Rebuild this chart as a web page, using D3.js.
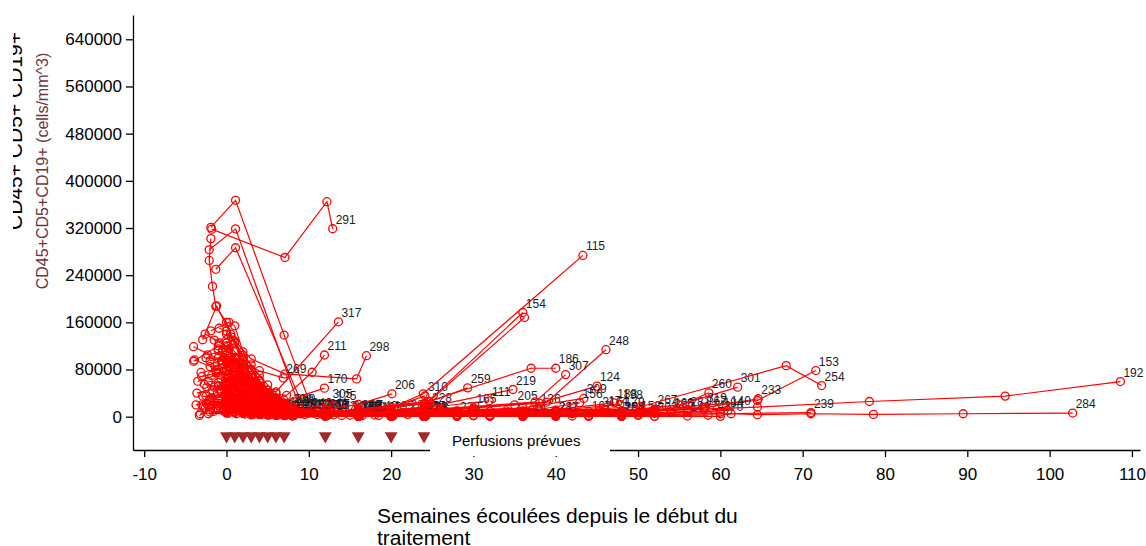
<!DOCTYPE html>
<html>
<head>
<meta charset="utf-8">
<script src="https://cdn.jsdelivr.net/npm/d3@7"></script>
<style>
  html, body { margin: 0; padding: 0; background: #fff; }
  svg { display: block; font-family: Arial, "Liberation Sans", sans-serif; }
</style>
</head>
<body>
<svg id="chart" width="1146" height="546"></svg>
<script>
// Axis ticks
const xTicks = [-10, 0, 10, 20, 30, 40, 50, 60, 70, 80, 90, 100, 110];
const yTicks = [0, 80000, 160000, 240000, 320000, 400000, 480000, 560000, 640000];

// Planned infusion weeks
const infusionWeeks = [0, 1, 2, 3, 4, 5, 6, 7, 12, 16, 20, 24];

// Patient identifiers (label drawn at the last measurement); drawn in this order
const patientIds = [
  "101","104","107","113","118","122","128","131","138","142",
  "149","158","162","167","174","179","184","190","197","201",
  "210","217","225","231","242","250","257","267","274","286",
  "120","143","195","172","203","146","229","265","182","109",
  "134","151","176","208","214","223","236","247","252","263",
  "271","278","283","288","294","302","305","125","299","165",
  "205","136","281","160","243","270",
  "291","317","211","298","269","170","206","310","228","259",
  "186","219","111","115","154","","248","307","124","309",
  "156","316","188","198","301","254","153","233","260","319",
  "140","239","192","284"];

// Weeks since start of treatment, one list per patient
const patientWeeks = [
  [-2.6, 0.0, 1.0, 2.0, 3.0, 4.0, 6.0, 8.0],
  [-1.4, 0.2, 1.3, 2.2, 3.3, 4.2, 5.3, 6.2, 8.3, 10.5],
  [-3.5, -0.3, 0.8, 1.8, 2.8, 3.8, 4.8, 5.8, 6.8, 7.8, 9.5],
  [-2.3, 0.0, 1.0, 2.0, 3.0, 4.0, 5.0, 6.0, 7.0, 8.0, 12.0],
  [-1.7, 0.1, 1.1, 2.1, 3.1, 4.1, 5.1, 6.1, 7.1, 8.1, 11.0],
  [-3.1, 0.3, 1.3, 2.3, 3.3, 4.3, 5.3, 6.3, 7.3],
  [-0.9, 0.0, 1.0, 2.0, 3.0, 4.0, 5.0, 6.0, 7.0, 8.0, 12.0, 16.0, 24.0],
  [-2.7, -0.1, 0.9, 1.9, 2.9, 3.9, 4.9, 5.9, 6.9],
  [-1.9, 0.0, 1.0, 2.0, 3.0, 4.0, 5.0, 6.0, 7.0, 8.0, 14.0],
  [-3.6, 0.4, 1.4, 2.4, 3.4, 4.4, 5.4, 6.4, 7.4, 8.4, 18.0],
  [-1.2, 0.0, 1.0, 2.0, 3.0, 4.0, 5.0, 6.0, 7.0, 8.0, 12.0, 16.0, 20.0, 24.0, 36.0, 48.0, 56.0],
  [-2.1, 0.0, 1.0, 2.0, 3.0, 4.0, 5.0, 6.0, 7.0, 8.0, 12.0, 16.0, 20.0, 24.0, 30.0, 40.0, 50.0],
  [-0.7, 0.3, 1.3, 2.3, 3.3, 4.3, 5.3, 6.3, 7.3, 8.3, 12.3, 16.3, 20.3, 24.3, 32.0, 44.0],
  [-2.9, 0.0, 2.0, 4.0, 6.0, 8.0, 12.0, 16.0, 20.0, 24.0, 28.0, 36.0, 44.0, 52.0, 58.0],
  [-1.5, 0.0, 2.0, 4.0, 6.0, 8.0, 12.0, 16.0, 20.0, 24.0, 30.0, 38.0, 46.0],
  [-2.4, 0.0, 1.0, 2.0, 3.0, 4.0, 6.0, 8.0, 12.0, 16.0, 20.0, 24.0, 28.0, 32.0, 40.0, 48.0],
  [-0.4, 0.0, 1.0, 2.0, 3.0, 4.0, 5.0, 6.0, 7.0, 8.0, 12.0, 16.0, 20.0, 24.0, 28.0, 36.0, 44.0, 52.0, 60.0],
  [-3.2, 0.0, 1.0, 2.0, 4.0, 6.0, 8.0, 12.0, 16.0, 20.0, 24.0, 36.0, 48.0],
  [-1.0, 0.2, 1.2, 2.2, 3.2, 4.2, 5.2, 6.2, 7.2, 8.2, 12.2, 16.2],
  [-2.0, -0.3, 0.7, 1.7, 2.7, 3.7, 4.7, 5.7, 6.7, 7.7],
  [-3.7, 0.0, 1.0, 2.0, 3.0, 4.0, 5.0, 6.0, 7.0],
  [-1.3, 0.1, 1.1, 2.1, 3.1, 4.1, 5.1, 6.1, 7.1, 8.1, 12.1],
  [-2.6, 0.0, 1.0, 2.0, 3.0, 4.0, 5.0, 6.0, 7.0, 8.0, 12.0, 16.0, 20.0, 24.0, 30.0, 36.0, 42.0, 48.0, 54.0],
  [-1.8, 0.0, 1.0, 2.0, 3.0, 4.0, 5.0, 6.0, 7.0, 8.0, 12.0, 16.0, 20.0, 24.0, 28.0, 32.0, 40.0],
  [-0.9, 0.0, 1.0, 2.0, 3.0, 4.0, 5.0, 6.0, 7.0, 8.0, 10.0],
  [-3.0, 0.0, 1.0, 2.0, 3.0, 4.0, 5.0, 6.0, 7.0, 8.0, 12.0],
  [-2.2, 0.2, 1.2, 2.2, 3.2, 4.2, 5.2, 6.2, 7.2, 8.2, 12.2, 16.2, 20.2, 24.2, 36.0, 48.0],
  [-1.4, 0.0, 1.0, 2.0, 3.0, 4.0, 5.0, 6.0, 7.0, 8.0, 12.0, 16.0, 20.0, 24.0, 28.0, 34.0, 40.0, 46.0, 52.0],
  [-2.5, 0.0, 1.0, 2.0, 3.0, 4.0, 5.0, 6.0, 7.0, 8.0, 12.0, 16.0, 20.0, 24.0],
  [-0.6, 0.4, 1.4, 2.4, 3.4, 4.4, 5.4, 6.4, 7.4, 8.4, 22.0],
  [-1.9, 1.1, 7.0, 10.5, 16.0],
  [-2.1, 1.1, 9.0, 16.0],
  [-1.3, 1.1, 9.6, 20.0],
  [-1.9, -2.1, -1.7, -1.3, 0.0, 0.8, 3.0, 6.0, 8.0, 13.0],
  [-4.0, -0.5, 1.0, 3.0, 5.0, 8.0],
  [-4.0, -1.0, 0.3, 2.0, 4.0, 8.0, 12.0],
  [-2.9, -1.2, 0.5, 2.0, 4.0, 6.0, 8.0, 11.5],
  [-3.9, -1.0, 1.0, 3.0, 6.0, 9.0],
  [-1.9, 0.3, 1.0, 2.0, 4.0, 7.0, 10.0],
  [-3.3, 0.0, 1.0, 2.0, 4.0, 8.0, 18.5],
  [-1.5, 0.0, 1.0, 2.0, 3.0, 4.0, 5.0, 6.0, 7.0, 8.0, 9.2],
  [-1.0, 0.0, 1.0, 2.0, 3.0, 4.0, 5.0, 6.0, 7.0, 8.0, 12.0],
  [-2.0, 0.0, 1.0, 2.0, 3.0, 4.0, 5.0, 6.0, 7.0, 8.0, 12.0, 16.0],
  [-1.2, 0.1, 1.1, 2.1, 3.0, 4.1, 5.0, 6.1, 7.0, 8.1, 15.0],
  [-2.2, 0.0, 0.9, 2.0, 3.1, 4.0, 5.1, 6.0, 7.1, 8.0, 12.0, 16.1, 20.0, 24.0],
  [-0.8, 0.0, 1.0, 2.0, 3.0, 4.0, 5.0, 6.0, 7.0, 8.0, 12.0, 16.0, 20.0, 24.0, 28.0],
  [-2.5, 0.0, 1.0, 2.0, 3.0, 4.0, 5.0, 6.0, 7.0, 8.0, 12.0, 16.0, 20.0, 24.0, 36.0],
  [-1.6, 0.0, 1.0, 2.0, 3.0, 4.0, 5.0, 6.0, 7.0, 8.0, 12.0, 16.0, 20.0, 24.0, 32.0, 40.0],
  [-2.8, -0.2, 1.0, 2.0, 3.0, 4.0, 5.0, 6.0, 7.0, 8.0, 12.0, 16.0, 20.0, 24.0],
  [-1.3, 0.0, 1.0, 2.0, 3.0, 4.0, 5.0, 6.0, 7.0, 8.0, 12.0, 16.0, 20.0, 24.0, 36.0, 48.0],
  [-2.0, 0.0, 1.0, 2.0, 3.0, 4.0, 5.0, 6.0, 7.0, 8.0, 12.0, 16.0, 20.0, 24.0],
  [-0.5, 0.5, 1.5, 2.5, 3.5, 4.5, 5.5, 6.5, 7.5, 8.5, 12.5, 16.5],
  [-1.8, 0.2, 1.2, 2.2, 3.2, 4.2, 5.2, 6.2, 7.2, 8.2, 12.2, 16.2, 20.2, 24.2],
  [-2.4, 0.1, 1.0, 2.1, 3.0, 4.1, 5.0, 6.1, 7.0, 8.1, 12.0, 16.0],
  [-1.1, 0.0, 0.9, 1.9, 2.9, 3.9, 4.9, 5.9, 6.9, 7.9, 11.9, 15.9, 19.9, 23.9, 30.0, 36.0, 42.0, 48.0],
  [-3.0, 0.0, 1.0, 2.0, 3.0, 4.0, 5.0, 6.0, 7.0, 8.0, 12.0, 16.0, 20.0, 24.0, 28.0, 36.0, 44.0, 52.0],
  [0.0, 2.0, 4.0, 8.0, 12.5],
  [-1.0, 1.0, 4.0, 8.0, 13.0],
  [-0.5, 1.5, 4.5, 8.0],
  [0.0, 8.0, 16.0, 24.0, 30.0],
  [0.0, 8.0, 16.0, 24.0, 35.0],
  [0.0, 8.0, 16.0, 24.0, 37.8],
  [0.0, 2.0, 6.0, 12.0, 20.0, 28.0, 40.0, 52.0, 56.0],
  [-2.0, 0.0, 4.0, 8.0, 16.0, 24.0, 36.0, 50.0, 54.0],
  [-1.0, 1.0, 4.0, 8.0, 16.0, 24.0, 36.0, 48.0, 58.5],
  [-1.6, 0.0, 3.0, 8.0, 16.0, 24.0, 32.0, 44.0, 52.0, 60.0],
  [-1.8, 7.1, 12.2, 12.9],
  [-0.6, 2.0, 6.0, 13.6],
  [0.2, 3.5, 7.3, 10.4, 11.9],
  [0.6, 3.0, 7.1, 15.8, 17.0],
  [-1.0, 1.5, 4.0, 6.9],
  [0.0, 2.0, 6.0, 11.9],
  [0.0, 4.0, 8.0, 12.0, 16.0, 20.1],
  [-1.0, 1.0, 4.0, 8.0, 12.0, 16.0, 20.0, 24.1],
  [0.0, 4.0, 8.0, 16.0, 24.6],
  [-1.0, 2.0, 8.0, 16.0, 24.0, 29.3],
  [0.0, 4.0, 12.0, 24.3, 37.0, 40.0],
  [0.0, 6.0, 16.0, 24.0, 34.8],
  [0.0, 8.0, 20.0, 31.9],
  [0.0, 4.0, 8.0, 12.0, 16.0, 20.0, 23.9, 43.3],
  [0.0, 4.0, 8.0, 16.0, 24.2, 36.0],
  [0.0, 6.0, 12.0, 24.6, 36.2],
  [0.0, 8.0, 16.0, 24.0, 38.9, 46.1],
  [0.0, 8.0, 24.0, 37.5, 41.2],
  [0.0, 8.0, 24.0, 38.0, 45.0],
  [0.0, 8.0, 24.0, 36.0, 43.4],
  [0.0, 8.0, 24.0, 36.0, 42.9],
  [0.0, 8.0, 24.0, 36.0, 45.3],
  [0.0, 12.0, 24.0, 36.0, 47.1],
  [0.0, 12.0, 24.0, 36.0, 47.8],
  [0.0, 12.0, 24.0, 36.0, 48.0, 55.0, 62.1],
  [0.0, 12.0, 24.0, 40.0, 50.3, 68.0, 72.3],
  [0.0, 12.0, 24.0, 40.0, 52.0, 64.5, 71.6],
  [0.0, 12.0, 24.0, 48.0, 58.0, 64.6],
  [0.0, 12.0, 24.0, 48.0, 54.0, 58.6],
  [0.0, 12.0, 24.0, 40.0, 52.0, 58.0],
  [0.0, 12.0, 24.0, 40.0, 52.0, 60.9],
  [0.0, 12.0, 24.0, 36.0, 48.0, 60.0, 71.0],
  [0.0, 12.0, 24.0, 36.0, 48.0, 56.0, 64.5, 78.1, 94.6, 108.6],
  [0.0, 12.0, 24.0, 36.0, 48.0, 61.3, 64.5, 71.0, 78.6, 89.5, 102.8]
];

// CD45+CD5+CD19+ counts (cells/mm^3), one list per patient
const patientCounts = [
  [140000, 120000, 100000, 85000, 70000, 52000, 30000, 12000],
  [85000, 95000, 88000, 76000, 60000, 48000, 35000, 25000, 12000, 6000],
  [60000, 75000, 82000, 70000, 58000, 44000, 33000, 24000, 16000, 9000, 4000],
  [105000, 112000, 98000, 80000, 66000, 50000, 38000, 27000, 19000, 12000, 5000],
  [45000, 65000, 72000, 60000, 52000, 41000, 33000, 22000, 15000, 8000, 4000],
  [75000, 85000, 70000, 58000, 42000, 30000, 22000, 15000, 10000],
  [125000, 140000, 128000, 104000, 88000, 70000, 54000, 40000, 28000, 18000, 8000, 4000, 2000],
  [55000, 48000, 40000, 30000, 22000, 16000, 11000, 8000, 5000],
  [30000, 35000, 30000, 26000, 20000, 15000, 11000, 8000, 5000, 3000, 2000],
  [40000, 55000, 50000, 42000, 34000, 26000, 19000, 13000, 9000, 6000, 3000],
  [15000, 18000, 14000, 11000, 8000, 6000, 5000, 4000, 3000, 2500, 2000, 1800, 1500, 1400, 1300, 1200, 1100],
  [28000, 30000, 26000, 21000, 17000, 13000, 10000, 8000, 6000, 5000, 4000, 3500, 3000, 2800, 2600, 2400, 2200],
  [65000, 60000, 52000, 44000, 36000, 28000, 22000, 16000, 12000, 9000, 6000, 5000, 4000, 3500, 3000, 2500],
  [35000, 32000, 20000, 12000, 8000, 6000, 5000, 6000, 7000, 9000, 8000, 10000, 9000, 11000, 12000],
  [50000, 45000, 28000, 15000, 9000, 6000, 8000, 10000, 12000, 14000, 13000, 12000, 11000],
  [22000, 25000, 21000, 17000, 14000, 11000, 8000, 6000, 7000, 9000, 10000, 12000, 10000, 9000, 8000, 9000],
  [10000, 12000, 9000, 7000, 5000, 4000, 3000, 2500, 2000, 1500, 1800, 2500, 3000, 3500, 4000, 5000, 6000, 7000, 8000],
  [5000, 8000, 7000, 6000, 4000, 3000, 2500, 2000, 1800, 1600, 1500, 1400, 1300],
  [115000, 120000, 100000, 82000, 66000, 52000, 40000, 30000, 22000, 15000, 8000, 4000],
  [95000, 100000, 92000, 80000, 66000, 54000, 42000, 32000, 22000, 14000],
  [20000, 28000, 24000, 20000, 16000, 12000, 9000, 7000, 5000],
  [78000, 85000, 76000, 66000, 54000, 42000, 33000, 25000, 18000, 12000, 6000],
  [14000, 16000, 13000, 11000, 9000, 7500, 6000, 5000, 4000, 3500, 3000, 4000, 5000, 6000, 7000, 6000, 5000, 6000, 7000],
  [32000, 34000, 29000, 24000, 19000, 15000, 12000, 9000, 7000, 5000, 4000, 3000, 2500, 2000, 1800, 1600, 1400],
  [150000, 145000, 125000, 100000, 80000, 60000, 45000, 32000, 22000, 14000, 8000],
  [68000, 78000, 70000, 60000, 48000, 38000, 28000, 20000, 14000, 9000, 5000],
  [5000, 6000, 5000, 4500, 4000, 3500, 3000, 2500, 2000, 1800, 1500, 1300, 1200, 1100, 1000, 900],
  [24000, 26000, 22000, 18000, 15000, 12000, 10000, 8000, 7000, 6000, 5000, 6000, 7000, 8000, 9000, 10000, 11000, 12000, 13000],
  [100000, 96000, 84000, 70000, 58000, 46000, 36000, 28000, 20000, 14000, 8000, 5000, 3000, 2000],
  [42000, 48000, 44000, 38000, 30000, 24000, 18000, 13000, 9000, 6000, 4000],
  [321000, 367000, 138400, 10000, 3000],
  [283000, 318500, 12000, 4000],
  [250000, 286500, 8000, 3000],
  [302000, 265000, 221000, 187000, 160000, 130000, 70000, 25000, 8000, 3000],
  [118700, 95000, 60000, 30000, 15000, 6000],
  [94000, 120000, 114800, 70000, 40000, 15000, 5000],
  [130500, 188000, 140000, 90000, 50000, 25000, 10000, 5000],
  [96200, 80000, 60000, 35000, 20000, 5000],
  [145700, 159900, 154100, 110000, 60000, 20000, 6000],
  [2200, 30000, 45000, 25000, 10000, 3000, 2000],
  [130000, 125000, 110000, 95000, 80000, 62000, 45000, 30000, 18000, 10000, 6000],
  [100000, 105000, 90000, 70000, 55000, 40000, 30000, 22000, 15000, 9000, 4000],
  [85000, 90000, 75000, 65000, 48000, 35000, 25000, 16000, 10000, 6000, 3000, 2000],
  [75000, 70000, 62000, 50000, 38000, 30000, 22000, 14000, 9000, 5000, 2500],
  [60000, 58000, 50000, 42000, 30000, 24000, 18000, 12000, 8000, 5000, 3000, 2000, 1500, 1000],
  [45000, 48000, 40000, 32000, 25000, 18000, 13000, 9000, 6000, 4000, 2500, 1500, 1000, 800, 600],
  [35000, 38000, 30000, 24000, 19000, 14000, 10000, 7000, 5000, 3000, 2000, 1500, 1200, 1000, 900],
  [25000, 27000, 22000, 18000, 14000, 10000, 8000, 6000, 4000, 3000, 2000, 1200, 1000, 800, 700, 600],
  [18000, 20000, 16000, 12000, 9000, 7000, 5000, 4000, 3000, 2000, 1500, 1000, 800, 600],
  [12000, 14000, 11000, 9000, 7000, 5000, 4000, 3000, 2500, 2000, 1500, 1200, 1000, 900, 800, 700],
  [8000, 9000, 7000, 6000, 5000, 4000, 3000, 2500, 2000, 1500, 1000, 800, 600, 500],
  [110000, 100000, 85000, 60000, 45000, 35000, 25000, 17000, 12000, 8000, 4000, 2000],
  [70000, 65000, 55000, 45000, 35000, 25000, 18000, 12000, 8000, 5000, 3000, 2000, 1500, 1000],
  [50000, 52000, 45000, 35000, 28000, 20000, 15000, 10000, 7000, 4000, 2000, 1000],
  [40000, 42000, 36000, 28000, 22000, 16000, 12000, 8000, 6000, 4000, 3000, 2500, 2000, 1800, 1500, 1300, 1200, 1000],
  [20000, 22000, 18000, 14000, 11000, 8000, 6000, 4500, 3500, 2500, 2000, 1800, 1500, 1200, 1000, 900, 800, 700],
  [40000, 25000, 12000, 8000, 23000],
  [30000, 20000, 10000, 6000, 19000],
  [90000, 60000, 30000, 14000],
  [20000, 4000, 3000, 8000, 15000],
  [22000, 5000, 4000, 9000, 20000],
  [18000, 4000, 3000, 6000, 14000],
  [15000, 8000, 3000, 2000, 2000, 3000, 4000, 6000, 9000],
  [25000, 20000, 6000, 2000, 1000, 1500, 2000, 4000, 8000],
  [12000, 9000, 4000, 2000, 1000, 1200, 1500, 2000, 2500],
  [9000, 7000, 3000, 1500, 1000, 900, 800, 800, 700, 600],
  [318000, 270000, 364600, 318700],
  [95000, 62000, 42000, 160900],
  [70000, 42000, 36000, 75400, 104600],
  [135000, 98000, 72600, 64100, 103500],
  [112000, 92000, 78000, 65800],
  [60000, 36000, 21000, 48400],
  [42000, 16000, 8000, 12000, 21000, 38800],
  [52000, 31000, 12000, 5000, 6000, 10000, 15000, 35400],
  [30000, 10000, 4000, 6000, 17000],
  [58000, 25000, 8000, 12000, 22000, 48900],
  [45000, 12000, 6000, 25000, 82200, 82200],
  [35000, 9000, 5000, 15000, 46100],
  [25000, 6000, 8000, 27000],
  [80000, 30000, 10000, 5000, 8000, 15000, 38800, 273500],
  [55000, 20000, 8000, 10000, 22000, 176700],
  [40000, 12000, 6000, 26000, 168300],
  [30000, 8000, 6000, 12000, 24800, 113600],
  [28000, 6000, 10000, 25000, 71400],
  [22000, 5000, 9000, 23000, 51800],
  [18000, 4000, 7000, 15000, 31000],
  [15000, 3000, 5000, 8000, 23600],
  [12000, 2000, 4000, 6000, 10000],
  [10000, 3000, 5000, 6000, 23600],
  [9000, 2000, 4000, 5000, 21000],
  [20000, 4000, 6000, 8000, 10000, 20000, 50100],
  [25000, 5000, 8000, 10000, 16900, 86600, 52800],
  [30000, 6000, 7000, 9000, 12000, 27500, 78200],
  [15000, 3000, 4000, 6000, 15000, 30400],
  [18000, 4000, 3000, 7000, 12000, 40500],
  [12000, 2000, 3000, 5000, 9000, 16400],
  [10000, 2000, 2000, 4000, 6000, 10600],
  [8000, 1500, 2500, 3500, 4500, 5000, 7000],
  [20000, 4000, 5000, 7000, 10000, 12000, 16400, 25800, 34900, 59600],
  [6000, 1000, 1500, 2000, 3000, 5000, 3400, 5000, 3900, 5000, 6200]
];

const svg = d3.select("#chart");

// Plot frame in pixels
const plotLeft = 133, plotRight = 1140, plotTop = 15, plotBottom = 450;

const x = d3.scaleLinear().domain([-11.36, 110.98]).range([plotLeft, plotRight]);
const y = d3.scaleLinear().domain([-56470, 681200]).range([plotBottom, plotTop]);

const lineColor = "#ff0000";

// Patient trajectories, each followed by its label
const series = patientIds.map((id, i) => ({
  id,
  points: patientWeeks[i].map((w, j) => ({ w, c: patientCounts[i][j] }))
}));

const line = d3.line().x(d => x(d.w)).y(d => y(d.c));

const gSeries = svg.append("g");
series.forEach(s => {
  const g = gSeries.append("g");
  g.append("path")
    .attr("d", line(s.points))
    .attr("fill", "none")
    .attr("stroke", lineColor)
    .attr("stroke-width", 1.2);
  g.selectAll("circle")
    .data(s.points)
    .join("circle")
    .attr("cx", d => x(d.w))
    .attr("cy", d => y(d.c))
    .attr("r", 4)
    .attr("fill", "none")
    .attr("stroke", lineColor)
    .attr("stroke-width", 1.3);
  if (s.id !== "") {
    const last = s.points[s.points.length - 1];
    g.append("text")
      .attr("x", x(last.w) + 3)
      .attr("y", y(last.c) - 5)
      .attr("font-size", 12)
      .attr("fill", "#1c1c28")
      .text(s.id);
  }
});

// Infusion markers along the bottom of the plot
const tri = d3.symbol().type(d3.symbolTriangle).size(72);
svg.append("g")
  .selectAll("path")
  .data(infusionWeeks)
  .join("path")
  .attr("d", tri)
  .attr("transform", d => `translate(${x(d)},${plotBottom - 14}) rotate(180)`)
  .attr("fill", "#a02b2b");

// Axes
const xAxis = d3.axisBottom(x)
  .tickValues(xTicks)
  .tickFormat(d => String(d))
  .tickSize(7)
  .tickSizeOuter(0)
  .tickPadding(11);
const gx = svg.append("g")
  .attr("transform", `translate(0,${plotBottom})`)
  .call(xAxis);

const yAxis = d3.axisLeft(y)
  .tickValues(yTicks)
  .tickFormat(d => String(d))
  .tickSize(7)
  .tickSizeOuter(0)
  .tickPadding(4);
const gy = svg.append("g")
  .attr("transform", `translate(${plotLeft},0)`)
  .call(yAxis);

[gx, gy].forEach(g => {
  g.selectAll("path.domain").attr("stroke", "#000").attr("stroke-width", 1.3);
  g.selectAll(".tick line").attr("stroke", "#000").attr("stroke-width", 1.3);
  g.selectAll(".tick text")
    .attr("font-size", 17)
    .attr("font-family", "Arial, 'Liberation Sans', sans-serif")
    .attr("fill", "#000");
});

// Legend box over the axis
svg.append("rect")
  .attr("x", 430).attr("y", 424)
  .attr("width", 180).attr("height", 32)
  .attr("fill", "#fff");
svg.append("text")
  .attr("x", 452).attr("y", 446)
  .attr("font-size", 15)
  .attr("fill", "#000")
  .text("Perfusions prévues");

// X axis title
const xt = svg.append("text")
  .attr("font-size", 21)
  .attr("fill", "#000");
xt.append("tspan").attr("x", 377).attr("y", 523).text("Semaines écoulées depuis le début du");
xt.append("tspan").attr("x", 377).attr("y", 545).text("traitement");

// Y axis titles: large one partly cut at the left edge, small one beside the ticks
svg.append("clipPath").attr("id", "ytitleClip")
  .append("rect").attr("x", 13).attr("y", 0).attr("width", 30).attr("height", 546);
svg.append("g")
  .attr("clip-path", "url(#ytitleClip)")
  .append("text")
  .attr("transform", "translate(22,131) rotate(-90)")
  .attr("text-anchor", "middle")
  .attr("font-size", 21)
  .attr("fill", "#000")
  .text("CD45+ CD5+ CD19+");

svg.append("text")
  .attr("transform", "translate(48,171) rotate(-90)")
  .attr("text-anchor", "middle")
  .attr("font-size", 16)
  .attr("fill", "#6b3445")
  .text("CD45+CD5+CD19+ (cells/mm^3)");
</script>
</body>
</html>
